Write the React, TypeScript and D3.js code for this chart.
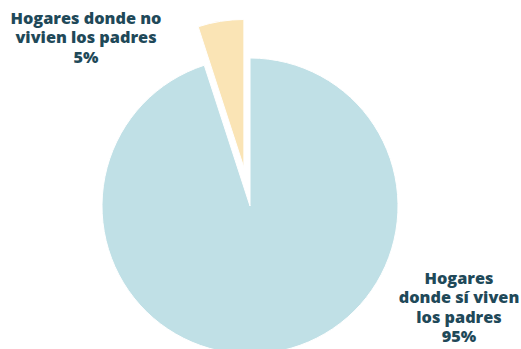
import React from "react";
import * as d3 from "d3";

const categories = ["Hogares donde sí viven los padres", "Hogares donde no viven los padres"];
const values = [95, 5];
const colors = ["#c0e0e6", "#fae4b5"];
const labelLines = [
  ["Hogares", "donde sí viven", "los padres", "95%"],
  ["Hogares donde no", "vivien los padres", "5%"],
];

export default function App() {
  const W = 521, H = 349;
  const cx = 250, cy = 206, R = 148;
  const pie = d3.pie<number>().sort(null).value((d) => d)(values);
  const arc = d3.arc<d3.PieArcDatum<number>>().innerRadius(0).outerRadius(R);
  const explode = [0, 39];
  const labelPos = [
    { x: 459, y: 284 },
    { x: 86, y: 24 },
  ];
  const lh = 19.3;
  return (
    <svg width={W} height={H} style={{ position: "absolute", left: 0, top: 0 }}>
      <g transform={`translate(${cx},${cy})`}>
        {pie.map((p, i) => {
          const mid = (p.startAngle + p.endAngle) / 2;
          const dx = Math.sin(mid) * explode[i];
          const dy = -Math.cos(mid) * explode[i];
          return (
            <path
              key={categories[i]}
              d={arc(p) || ""}
              transform={`translate(${dx},${dy})`}
              fill={colors[i]}
              stroke="#fff"
              strokeWidth={1}
            />
          );
        })}
      </g>
      {labelLines.map((lines, i) => (
        <text
          key={i}
          x={labelPos[i].x}
          y={labelPos[i].y}
          textAnchor="middle"
          fontFamily="'Open Sans', sans-serif"
          fontWeight={800}
          fontSize={16.3}
          fill="#1f4959"
        >
          {lines.map((l, j) => (
            <tspan key={j} x={labelPos[i].x} y={labelPos[i].y + j * lh}>
              {l}
            </tspan>
          ))}
        </text>
      ))}
    </svg>
  );
}
